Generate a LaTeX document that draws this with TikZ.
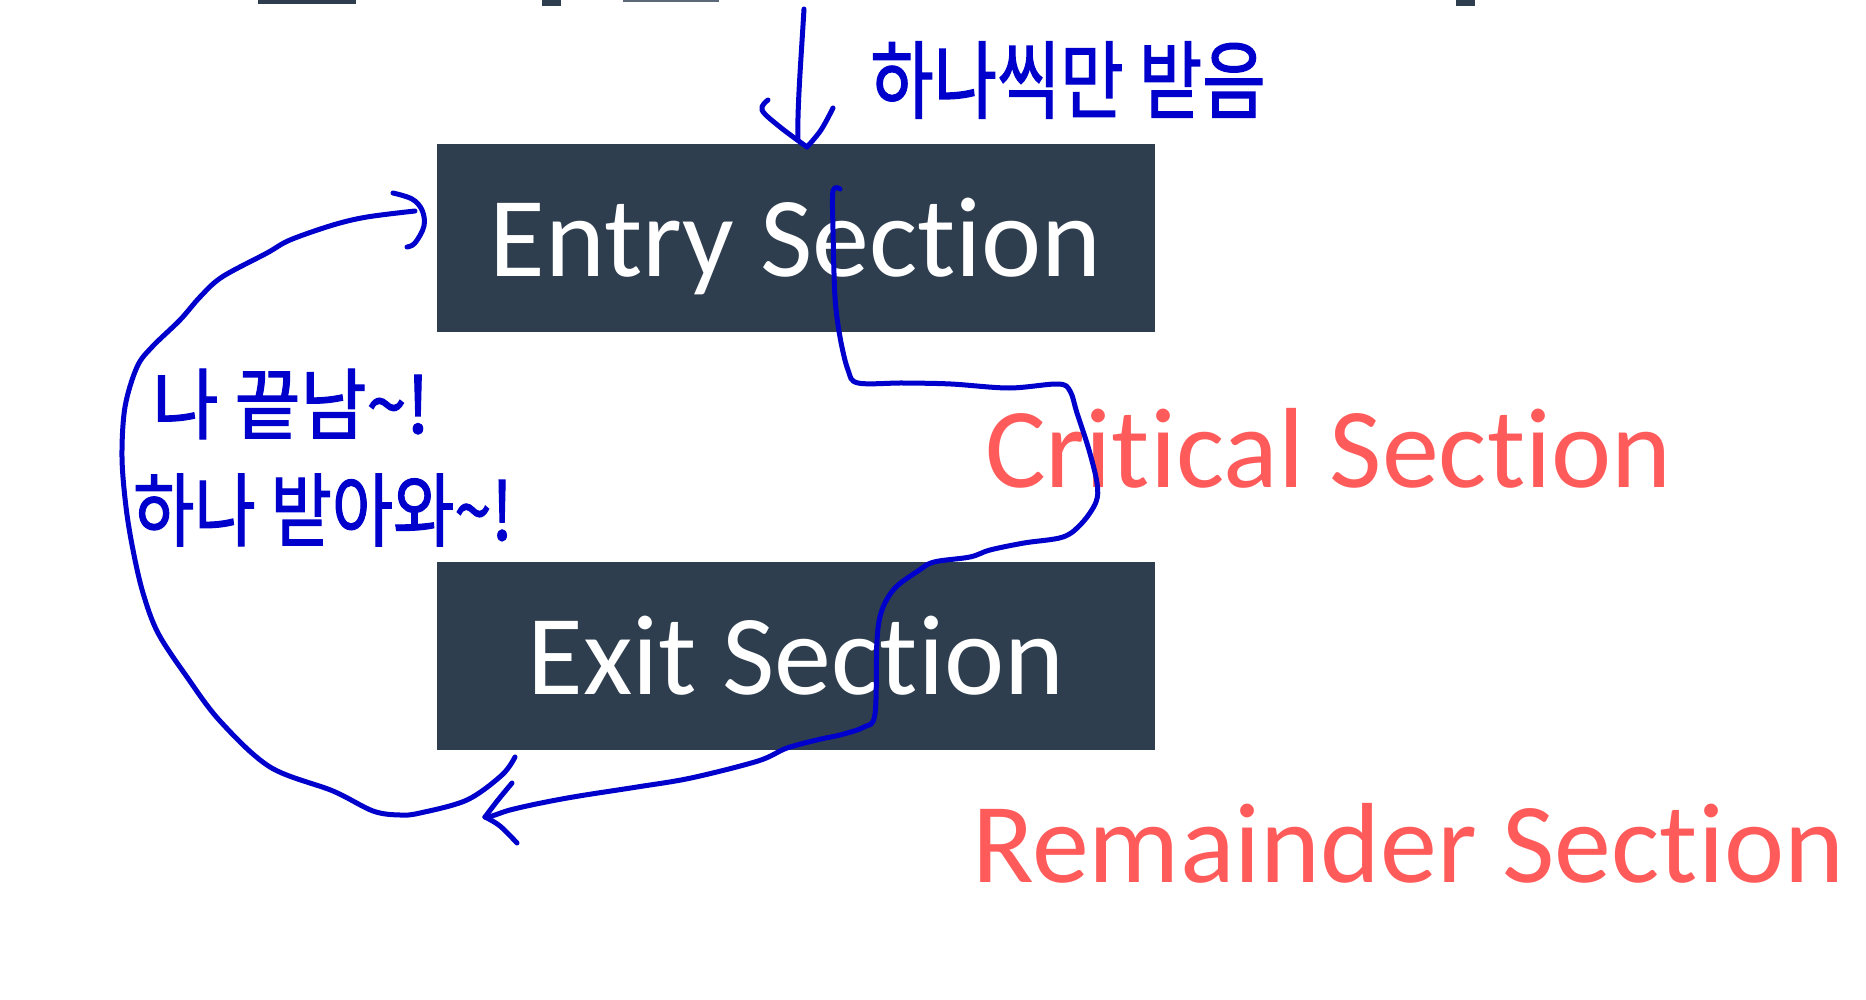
\documentclass[tikz,border=0pt]{standalone}
\usepackage{fontspec}
\setmainfont{Carlito}[Ligatures=NoCommon]
\newfontfamily\kr{Noto Sans CJK KR}[FakeBold=1.6]
\definecolor{boxfill}{HTML}{2E3E4E}
\definecolor{slate}{HTML}{5A6878}
\definecolor{redtxt}{HTML}{FF5B5B}
\definecolor{pen}{HTML}{0000CC}
\tikzset{
  secbox/.style={fill=boxfill, draw=none, minimum width=718pt, minimum height=188pt,
    inner sep=0pt, text=white, font=\fontsize{114}{136}\selectfont,
    text height=77pt, text depth=0pt},
  redlabel/.style={text=redtxt, inner sep=0pt, anchor=base west, font=\fontsize{114}{136}\selectfont},
  hand/.style={draw=pen, line width=5pt, line cap=round, line join=round},
  handtext/.style={text=pen, inner sep=0pt, font=\kr\fontsize{74}{80}\selectfont}
}
\begin{document}
\begin{tikzpicture}[x=1pt,y=-1pt]
\useasboundingbox[fill=white] (0,0) rectangle (1866,1000);
% cut-off slivers at the top edge
\fill[boxfill] (258,0) rectangle (356,4);
\fill[boxfill] (542,0) rectangle (561,6);
\fill[slate] (623,0) rectangle (719,2);
\fill[boxfill] (1456,0) rectangle (1475,6);
% section boxes
\node[secbox] (entry) at (796,238) {Entry Section};
\node[secbox] (exit) at (796,656) {Exit Section};
\node[redlabel] (crit) at (985,487) {Critical Section};
\node[redlabel] (rem) at (972,882) {Remainder Section};
% handwritten notes
\node[handtext] (note1) at (1068,80) {\scalebox{0.93}[1.15]{하나씩만 받음}};
\node[handtext] (note2) at (291,404) {\scalebox{0.97}[1.05]{나 끝남\textasciitilde !}};
\node[handtext] (note3) at (323,510) {\scalebox{0.9}[1.08]{하나 받아와\textasciitilde !}};
% top arrow into the entry section
\coordinate (topstart) at (804,9);
\coordinate (toptip) at (807,147);
\draw[hand] (topstart) .. controls (801,60) and (797,110) .. (798,140);
\draw[hand] plot[smooth, tension=0.6] coordinates {(768,100) (762,110) (780,127) (toptip)};
\draw[hand] plot[smooth, tension=0.6] coordinates {(833,108) (821,130) (toptip)};
% path through critical section to the remainder
\coordinate (sstart) at (840,189);
\coordinate (stip) at (485,817);
\draw[hand] plot[smooth, tension=0.55] coordinates {
 (sstart) (833,191) (833,230) (835,297) (840,337) (848,370) (858,383) (903,383)
 (951,384) (1009,388) (1058,384) (1070,391) (1077,413) (1089,450) (1097,483)
 (1096,502) (1082,523) (1063,537) (1024,543) (990,550) (970,557) (934,562)
 (918,571) (895,588) (882,610) (877,640) (875,714) (864,727) (840,735)
 (821,739) (787,748) (758,761) (691,778) (637,787) (579,796) (541,803)
 (510,810) (492,816) (stip)};
\draw[hand] plot[smooth, tension=0.6] coordinates {(512,783) (498,800) (stip)};
\draw[hand] plot[smooth, tension=0.6] coordinates {(stip) (500,826) (517,843)};
% loop from exit back to entry
\coordinate (lstart) at (515,757);
\coordinate (lend) at (415,211);
\draw[hand] plot[smooth, tension=0.55] coordinates {
 (lstart) (502,775) (467,800) (420,813) (400,815) (373,811) (333,791)
 (270,767) (220,721) (187,677) (158,633) (143,593) (133,550) (126,507)
 (122,457) (125,407) (137,367) (152,347) (180,320) (200,297) (222,277)
 (267,253) (290,240) (333,225) (367,217) (lend)};
\draw[hand] plot[smooth, tension=0.6] coordinates {(393,193) (412,199) (422,210) (424,226) (415,243) (407,247)};
\end{tikzpicture}
\end{document}
